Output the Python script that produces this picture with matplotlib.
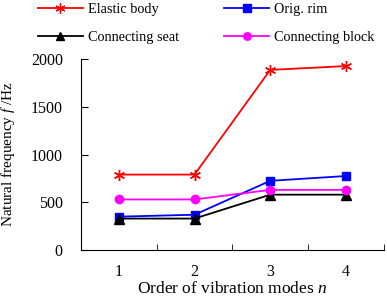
import matplotlib
matplotlib.use("Agg")
import matplotlib.pyplot as plt
import numpy as np

plt.rcParams['font.family'] = ['Liberation Serif', 'DejaVu Serif']
plt.rcParams['mathtext.fontset'] = 'custom'
plt.rcParams['mathtext.it'] = 'Liberation Serif:italic'
plt.rcParams['mathtext.rm'] = 'Liberation Serif'

modes = ["1", "2", "3", "4"]
elastic_body = [790, 790, 1885, 1925]
orig_rim = [350, 370, 725, 775]
connecting_seat = [330, 330, 580, 580]
connecting_block = [530, 530, 630, 630]

fig = plt.figure(figsize=(3.87, 2.96), dpi=100)
ax = fig.add_axes([0.209, 0.155, 0.783, 0.646])
x = np.arange(1, len(modes) + 1)

h1, = ax.plot(x, elastic_body, color='#ff0000', marker=(6, 2, 0), markersize=8, lw=1.3, label='Elastic body')
h2, = ax.plot(x, orig_rim, color='#0000ff', marker='s', markersize=6, lw=1.3, label='Orig. rim')
h3, = ax.plot(x, connecting_seat, color='black', marker='^', markersize=6.5, lw=1.3, label='Connecting seat')
h4, = ax.plot(x, connecting_block, color='#ff00ff', marker='o', markersize=6, lw=1.3, label='Connecting block')

ax.set_xlim(0.5, 4.5)
ax.set_ylim(0, 2000)
ax.set_yticks([0, 500, 1000, 1500, 2000])
ax.set_xticks(x)
ax.set_xticklabels(modes)
ax.set_xticks([1.5, 2.5, 3.5, 4.5], minor=True)
ax.tick_params(axis='x', which='major', length=0, labelsize=11.5, pad=10)
ax.tick_params(axis='x', which='minor', direction='in', length=4)
ax.tick_params(axis='y', direction='in', length=5, labelsize=11.5, pad=13)
for s in ['top', 'right']:
    ax.spines[s].set_visible(False)
for s in ['left', 'bottom']:
    ax.spines[s].set_linewidth(0.8)

ax.set_xlabel('Order of vibration modes $\\mathit{n}$', fontsize=12.5, labelpad=1)
ax.set_ylabel('Natural frequency $\\mathit{f}$ /Hz', fontsize=11, labelpad=10)

fig.legend(handles=[h1, h3, h2, h4], loc='upper left', bbox_to_anchor=(0.095, 0.995),
           ncol=2, frameon=False, fontsize=10.3, handlelength=3.1, columnspacing=3.2,
           labelspacing=1.05, handletextpad=0.35, borderaxespad=0.0, borderpad=0.1,
           markerscale=0.9)

fig.savefig('out.png', dpi=100)
